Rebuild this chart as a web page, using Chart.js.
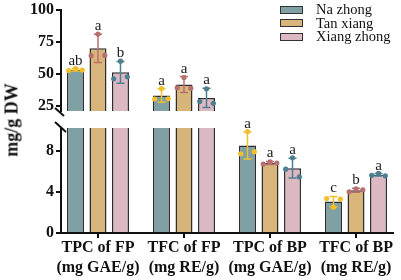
<!DOCTYPE html>
<html>
<head>
<meta charset="utf-8">
<script src="https://cdn.jsdelivr.net/npm/chart.js@4"></script>
<style>
html, body { margin: 0; padding: 0; background: #fff; }
#wrap { position: relative; width: 401px; height: 280px; overflow: hidden; font-family: "Liberation Serif", "DejaVu Serif", serif; color: #111; }
#topChart { position: absolute; left: 0; top: 0; }
#botChart { position: absolute; left: 0; top: 116px; }
#ytitle { position: absolute; left: 12px; top: 120px; transform: translate(-50%, -50%) rotate(-90deg); font-weight: bold; font-size: 18px; white-space: nowrap; }
#legend { position: absolute; left: 280px; top: 3px; font-size: 14.5px; }
.row { display: flex; align-items: center; height: 13.5px; }
.sw { width: 21px; height: 6px; border: 1.5px solid #333; margin-right: 13px; }
</style>
</head>
<body>
<div id="wrap">
  <canvas id="topChart" width="401" height="121"></canvas>
  <canvas id="botChart" width="401" height="164"></canvas>
  <div id="ytitle">mg/g DW</div>
  <div id="legend"></div>
</div>
<script>
// categories and series
const categories = [['TPC of FP', '(mg GAE/g)'], ['TFC of FP', '(mg RE/g)'], ['TPC of BP', '(mg GAE/g)'], ['TFC of BP', '(mg RE/g)']];
const seriesNames = ['Na zhong', 'Tan xiang', 'Xiang zhong'];

// means, error bars, replicate points (left, middle, right), letters
const naMeans = [53.2, 33.2, 8.5, 3.05];
const naErrors = [1.0, 5.3, 1.3, 0.5];
const naPoints = [[52.6, 54.2, 53.0], [30.4, 38.6, 30.6], [7.7, 9.85, 7.9], [3.35, 2.5, 3.3]];
const naLetters = ['ab', 'a', 'a', 'c'];

const tanMeans = [70.0, 41.7, 6.8, 4.15];
const tanErrors = [11.0, 6.2, 0.15, 0.2];
const tanPoints = [[64.3, 81.2, 64.5], [39.2, 47.2, 38.8], [6.7, 6.9, 6.8], [4.0, 4.3, 4.2]];
const tanLetters = ['a', 'a', 'a', 'b'];

const xiangMeans = [51.3, 31.2, 6.3, 5.65];
const xiangErrors = [8.5, 7.5, 0.95, 0.12];
const xiangPoints = [[46.2, 60.0, 47.8], [28.4, 38.4, 27.0], [6.2, 7.3, 5.45], [5.6, 5.8, 5.55]];
const xiangLetters = ['b', 'a', 'a', 'a'];

// axis ticks
const topTicks = [25, 50, 75, 100];
const bottomTicks = [0, 4, 8];

const fills = ['#7fa1a4', '#d8b57a', '#dbb8c2'];
const dotColors = ['#f0bf2a', '#b86f70', '#4d7f90'];
const means = [naMeans, tanMeans, xiangMeans];
const errors = [naErrors, tanErrors, xiangErrors];
const points = [naPoints, tanPoints, xiangPoints];
const letters = [naLetters, tanLetters, xiangLetters];
const serif = '"Liberation Serif", "DejaVu Serif", serif';

// error bars, replicate dots and significance letters
const marksPlugin = {
  id: 'marks',
  afterDatasetsDraw(chart) {
    const ctx = chart.ctx, area = chart.chartArea, ys = chart.scales.y;
    chart.data.datasets.forEach((ds, di) => {
      const meta = chart.getDatasetMeta(di);
      meta.data.forEach((bar, i) => {
        const m = means[di][i], e = errors[di][i];
        const yHi = ys.getPixelForValue(m + e);
        const yLo = ys.getPixelForValue(m - e);
        const col = dotColors[di];
        ctx.save();
        ctx.beginPath();
        ctx.rect(area.left, area.top - 1, area.right - area.left, area.bottom - area.top + 1);
        ctx.clip();
        ctx.strokeStyle = col;
        ctx.lineWidth = 1.5;
        ctx.beginPath();
        ctx.moveTo(bar.x, yHi); ctx.lineTo(bar.x, yLo);
        ctx.moveTo(bar.x - 4, yHi); ctx.lineTo(bar.x + 4, yHi);
        ctx.moveTo(bar.x - 4, yLo); ctx.lineTo(bar.x + 4, yLo);
        ctx.stroke();
        ctx.fillStyle = col;
        const offs = [-0.4, 0, 0.4];
        points[di][i].forEach((v, k) => {
          ctx.beginPath();
          ctx.arc(bar.x + offs[k] * bar.width, ys.getPixelForValue(v), 2.6, 0, Math.PI * 2);
          ctx.fill();
        });
        ctx.restore();
        if (m >= ys.min && m <= ys.max) {
          ctx.save();
          ctx.fillStyle = '#1a1a1a';
          ctx.font = '15px ' + serif;
          ctx.textAlign = 'center';
          ctx.textBaseline = 'alphabetic';
          ctx.fillText(letters[di][i], bar.x, yHi - 4);
          ctx.restore();
        }
      });
    });
  }
};

// diagonal marks for the broken axis
const breakPlugin = {
  id: 'brk',
  afterDraw(chart, args, opts) {
    const ctx = chart.ctx, a = chart.chartArea;
    ctx.save();
    ctx.strokeStyle = '#111';
    ctx.lineWidth = 2;
    ctx.beginPath();
    if (opts.side === 'bottom') {
      ctx.moveTo(a.left - 6, a.bottom - 3); ctx.lineTo(a.left + 3, a.bottom + 5);
    } else {
      ctx.moveTo(a.left - 6, a.top - 6); ctx.lineTo(a.left + 5, a.top + 4);
    }
    ctx.stroke();
    ctx.restore();
  }
};

function buildDatasets() {
  return seriesNames.map((name, di) => ({
    label: name,
    data: categories.map((c, i) => ({ x: i, y: means[di][i] })),
    backgroundColor: fills[di],
    borderColor: '#2e2e2e',
    borderWidth: 1.5,
    clip: 0,
    categoryPercentage: 0.785,
    barPercentage: 0.755
  }));
}

function makeChart(id, yMin, yMax, ticks, showX, pad, side) {
  return new Chart(document.getElementById(id), {
    type: 'bar',
    data: { datasets: buildDatasets() },
    options: {
      responsive: false,
      animation: false,
      layout: { padding: pad },
      plugins: { legend: { display: false }, tooltip: { enabled: false }, brk: { side: side } },
      scales: {
        x: {
          type: 'linear',
          display: showX,
          min: -0.43,
          max: 3.43,
          offset: false,
          afterBuildTicks: s => { s.ticks = categories.map((c, i) => ({ value: i })); },
          afterFit: s => { s.height = showX ? 47 : 0; },
          border: { display: true, color: '#111', width: 2 },
          grid: { offset: false, drawOnChartArea: false, drawTicks: true, tickLength: 5, color: '#111', lineWidth: 2 },
          ticks: {
            autoSkip: false,
            maxRotation: 0,
            padding: 0,
            color: '#111',
            font: { family: serif, size: 16, weight: 'bold', lineHeight: 1.25 },
            callback: v => categories[v]
          }
        },
        y: {
          min: yMin,
          max: yMax,
          afterBuildTicks: s => { s.ticks = ticks.map(v => ({ value: v })); },
          afterFit: s => { s.width = 61; },
          border: { display: true, color: '#111', width: 2 },
          grid: { drawOnChartArea: false, drawTicks: true, tickLength: 5, color: '#111', lineWidth: 2 },
          ticks: { autoSkip: false, padding: 2, color: '#111', font: { family: serif, size: 16, weight: 'bold', lineHeight: 1 } }
        }
      }
    },
    plugins: [marksPlugin, breakPlugin]
  });
}

makeChart('topChart', 21, 100, topTicks, false, { top: 9, bottom: 9, left: 0, right: 8 }, 'bottom');
makeChart('botChart', 0, 10.2, bottomTicks, true, { top: 12, bottom: 0, left: 0, right: 8 }, 'top');

// legend
const legend = document.getElementById('legend');
seriesNames.forEach((name, di) => {
  const row = document.createElement('div');
  row.className = 'row';
  row.innerHTML = '<div class="sw" style="background:' + fills[di] + '"></div><span>' + name + '</span>';
  legend.appendChild(row);
});
</script>
</body>
</html>
